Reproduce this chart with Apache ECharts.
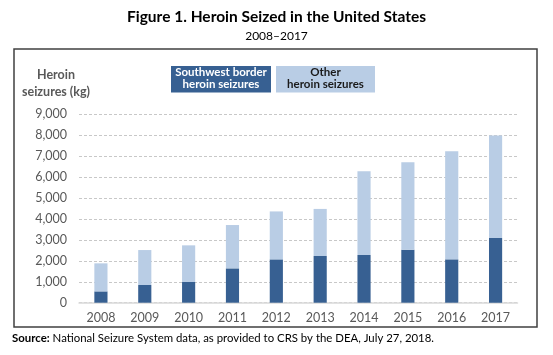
<!DOCTYPE html>
<html><head><meta charset="utf-8">
<script src="https://cdn.jsdelivr.net/npm/echarts@6/dist/echarts.min.js"></script>
<style>html,body{margin:0;padding:0;background:#fff}#c{width:553px;height:355px}</style>
</head><body><div id="c"></div>
<script>
var years = ['2008','2009','2010','2011','2012','2013','2014','2015','2016','2017'];
var southwest = [540, 845, 990, 1640, 2070, 2230, 2280, 2530, 2070, 3090];
var totals = [1880, 2515, 2740, 3710, 4360, 4480, 6280, 6710, 7240, 7990];
var other = totals.map(function(t, i){ return t - southwest[i]; });
var yTicks = [0, 1000, 2000, 3000, 4000, 5000, 6000, 7000, 8000, 9000];

var FONT = 'Lato';
var chart = echarts.init(document.getElementById('c'), null, {renderer:'canvas'});
chart.setOption({
  backgroundColor:'#fff',
  animation:false,
  title:[{
    text:'Figure 1. Heroin Seized in the United States',
    left:'center', top:4,
    textStyle:{fontFamily:FONT, fontWeight:'bold', fontSize:15.5, color:'#000'}
  },{
    text:'2008–2017', left:'center', top:25,
    textStyle:{fontFamily:FONT, fontWeight:'normal', fontSize:12, color:'#000'}
  }],
  grid:{left:79, right:35.5, top:114.3, bottom:52.3, containLabel:false},
  xAxis:{
    type:'category', data:years,
    axisLine:{lineStyle:{color:'#d9d9d9', width:1.5}},
    axisTick:{show:false},
    axisLabel:{fontFamily:FONT, fontSize:12.5, color:'#595959', margin:9}
  },
  yAxis:{
    type:'value', min:yTicks[0], max:yTicks[yTicks.length-1], interval:1000,
    axisLine:{show:false}, axisTick:{show:false},
    axisLabel:{fontFamily:FONT, fontSize:12.5, color:'#595959', margin:12,
      formatter:function(v){ return v.toLocaleString('en-US'); }},
    splitLine:{lineStyle:{color:'#c8c8c8', type:[3,2], width:1}}
  },
  series:[{
    name:'Southwest border heroin seizures', type:'bar', stack:'s',
    data:southwest, barWidth:'30%', itemStyle:{color:'#376092'}
  },{
    name:'Other heroin seizures', type:'bar', stack:'s',
    data:other, barWidth:'30%', itemStyle:{color:'#B9CDE5'}
  }],
  graphic:[
    {type:'rect', shape:{x:14, y:49, width:523, height:278}, style:{fill:'none', stroke:'#404040', lineWidth:1.5}, z:-1},
    {type:'text', x:56, y:67, style:{text:'Heroin\nseizures (kg)', fontFamily:FONT, fontSize:12.5, fontWeight:'bold', fill:'#595959', align:'center', lineHeight:16.5}},
    {type:'rect', shape:{x:171, y:66, width:100, height:26.5}, style:{fill:'#376092'}},
    {type:'text', x:221, y:67, style:{text:'Southwest border\nheroin seizures', fontFamily:FONT, fontSize:11.5, fontWeight:'bold', fill:'#fff', align:'center', lineHeight:11.5}},
    {type:'rect', shape:{x:276, y:66, width:99, height:26.5}, style:{fill:'#B9CDE5'}},
    {type:'text', x:325.5, y:67, style:{text:'Other\nheroin seizures', fontFamily:FONT, fontSize:11.5, fontWeight:'bold', fill:'#1a1a1a', align:'center', lineHeight:11.5}},
    {type:'text', x:12, y:333, style:{text:'{b|Source:} National Seizure System data, as provided to CRS by the DEA, July 27, 2018.', fontFamily:FONT, fontSize:11.4, fill:'#000', rich:{b:{fontFamily:FONT, fontSize:11.4, fontWeight:'bold', fill:'#000'}}}}
  ]
});
</script></body></html>
